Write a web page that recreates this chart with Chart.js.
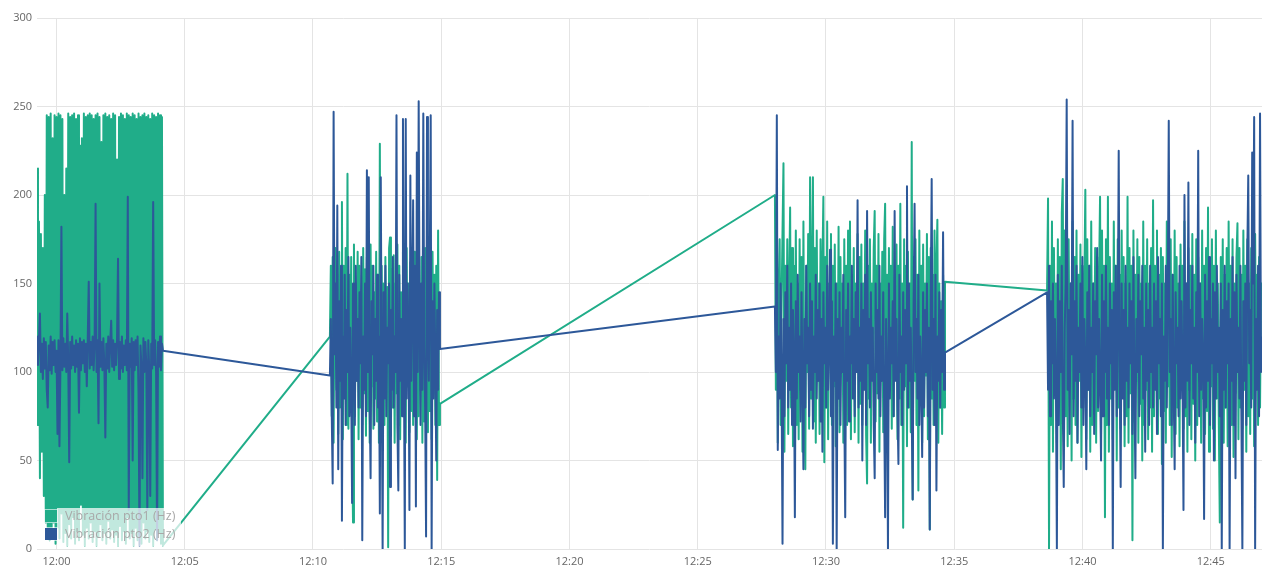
<!DOCTYPE html>
<html>
<head>
<meta charset="utf-8">
<title>Vibración</title>
<script src="https://cdn.jsdelivr.net/npm/chart.js@4/dist/chart.umd.min.js"></script>
<style>
  html, body { margin: 0; padding: 0; background: #fff; }
  #wrap { width: 1262px; height: 569px; position: relative; }
</style>
</head>
<body>
<div id="wrap"><canvas id="chart"></canvas></div>
<script>
// minutes after 12:00 where each recording burst starts / ends
const burstStart = [-0.76, 10.66, 28.01, 38.62];
const burstEnd = [4.15, 14.95, 34.64, 47.0];

// Vibración pto1 (Hz)
const pto1Burst1 = [215, 70, 185, 40, 178, 55, 170, 30, 200, 15, 245, 10, 244, 5, 246, 8, 232, 15, 245, 3,
  244, 12, 246, 6, 245, 20, 243, 4, 200, 9, 215, 2, 246, 14, 244, 6, 245, 18, 246, 3,
  243, 10, 245, 5, 228, 25, 232, 8, 246, 2, 244, 12, 245, 6, 246, 15, 245, 4, 243, 10,
  245, 2, 246, 7, 244, 14, 230, 5, 245, 9, 246, 3, 244, 16, 245, 6, 243, 11, 246, 4,
  245, 8, 220, 2, 244, 13, 246, 5, 245, 10, 243, 3, 246, 18, 245, 6, 244, 9, 246, 2,
  245, 12, 243, 5, 246, 8, 244, 3, 245, 15, 246, 6, 244, 10, 245, 4, 243, 8, 246, 2,
  245, 11, 244, 5, 246, 9, 245, 3, 244, 2];
const pto1Burst2 = [120, 160, 75, 165, 60, 150, 170, 90, 155, 65, 168, 80, 145, 196, 62, 160, 90, 170, 70, 212,
  68, 155, 85, 165, 58, 15, 172, 75, 150, 95, 168, 62, 160, 80, 145, 70, 170, 88, 158, 64,
  165, 78, 150, 60, 172, 92, 160, 68, 145, 85, 168, 72, 155, 60, 229, 66, 160, 82, 150, 70,
  165, 90, 148, 1, 170, 176, 64, 158, 80, 166, 60, 150, 88, 172, 70, 160, 62, 145, 85, 168,
  75, 155, 60, 170, 92, 150, 66, 162, 78, 148, 70, 168, 84, 158, 62, 170, 75, 150, 90, 165,
  60, 158, 72, 170, 82, 148, 66, 160, 78, 150, 62, 168, 88, 155, 70, 160, 39, 180, 70, 82];
const pto1Burst3 = [200, 90, 165, 60, 150, 175, 70, 140, 180, 218, 55, 160, 95, 175, 65, 150, 193, 80, 170, 58,
  160, 100, 180, 70, 150, 62, 175, 90, 165, 55, 185, 75, 45, 160, 100, 178, 68, 210, 85, 155,
  210, 72, 170, 60, 180, 95, 150, 65, 175, 88, 160, 199, 49, 165, 80, 185, 62, 150, 110, 178,
  70, 160, 92, 172, 58, 150, 85, 182, 66, 165, 100, 150, 60, 175, 80, 160, 70, 180, 95, 185,
  62, 155, 88, 170, 66, 150, 100, 178, 60, 165, 82, 172, 70, 150, 95, 180, 64, 37, 160, 85,
  175, 60, 150, 105, 170, 191, 72, 160, 88, 178, 55, 150, 95, 168, 66, 175, 195, 80, 155, 60,
  170, 90, 160, 68, 182, 75, 150, 100, 172, 62, 160, 85, 195, 70, 150, 12, 175, 92, 160, 58,
  168, 80, 150, 66, 230, 28, 165, 95, 175, 70, 155, 33, 180, 88, 160, 60, 172, 75, 150, 98,
  178, 62, 165, 11, 170, 85, 155, 70, 180, 92, 160, 186, 60, 150, 80, 140, 65, 155, 80, 151];
const pto1Burst4 = [146, 198, 0, 160, 70, 185, 55, 170, 90, 150, 60, 175, 80, 165, 45, 190, 209, 65, 180, 75,
  160, 58, 175, 95, 150, 50, 185, 85, 165, 70, 180, 60, 155, 95, 172, 52, 160, 80, 150, 203,
  62, 175, 90, 160, 55, 185, 70, 150, 88, 170, 60, 165, 78, 155, 199, 65, 180, 92, 160, 18,
  175, 70, 199, 55, 165, 85, 150, 62, 185, 95, 160, 50, 175, 80, 155, 68, 180, 90, 165, 58,
  150, 75, 199, 60, 170, 88, 160, 5, 180, 72, 155, 95, 175, 60, 165, 82, 150, 50, 185, 70,
  160, 90, 175, 62, 150, 80, 170, 55, 197, 75, 160, 95, 180, 65, 155, 85, 170, 48, 165, 78,
  150, 60, 185, 92, 160, 70, 175, 52, 155, 88, 180, 65, 165, 80, 150, 58, 172, 95, 160, 68,
  185, 75, 150, 55, 170, 90, 160, 62, 178, 82, 155, 50, 175, 70, 165, 95, 150, 60, 180, 85,
  160, 65, 170, 78, 193, 55, 155, 92, 175, 68, 160, 50, 180, 85, 150, 70, 15, 165, 88, 175,
  60, 155, 80, 170, 58, 185, 95, 160, 70, 175, 52, 150, 88, 165, 184, 62, 170, 80, 155, 68,
  180, 90, 160, 55, 175, 75, 150, 65, 170, 85, 160, 58, 178, 92, 155, 70, 165, 80, 150, 150];

// Vibración pto2 (Hz)
const pto2Burst1 = [120, 104, 118, 133, 100, 116, 96, 119, 102, 117, 90, 80, 115, 101, 120, 99, 117, 104, 118, 100,
  112, 65, 118, 58, 104, 182, 101, 119, 103, 116, 100, 133, 106, 49, 117, 102, 120, 104, 115, 100,
  118, 103, 116, 77, 119, 101, 117, 105, 118, 100, 116, 92, 119, 151, 102, 117, 104, 120, 101, 116,
  195, 100, 118, 71, 150, 103, 117, 101, 119, 104, 63, 116, 102, 120, 100, 117, 129, 103, 118, 101,
  116, 104, 119, 164, 96, 117, 102, 120, 100, 115, 104, 118, 101, 199, 22, 116, 103, 119, 50, 117,
  101, 118, 104, 120, 88, 2, 115, 103, 40, 119, 100, 117, 104, 22, 118, 101, 30, 116, 102, 196,
  104, 118, 100, 5, 117, 103, 120, 101, 116, 112];
const pto2Burst2 = [98, 130, 75, 37, 247, 110, 150, 80, 194, 45, 140, 95, 160, 16, 120, 85, 155, 70, 135, 100,
  165, 75, 125, 90, 26, 150, 110, 70, 160, 95, 130, 80, 145, 105, 165, 5, 120, 90, 150, 75,
  214, 100, 210, 85, 40, 140, 110, 160, 70, 130, 95, 155, 80, 120, 20, 210, 100, 0, 145, 85,
  160, 75, 125, 105, 150, 35, 135, 90, 165, 80, 120, 100, 245, 70, 33, 155, 95, 130, 75, 243,
  110, 0, 243, 85, 150, 120, 22, 211, 95, 140, 197, 75, 160, 24, 224, 100, 253, 130, 70, 150,
  90, 246, 115, 80, 7, 244, 125, 95, 160, 245, 0, 140, 85, 150, 105, 50, 135, 90, 145, 113];
const pto2Burst3 = [137, 100, 245, 56, 120, 85, 150, 95, 3, 130, 75, 145, 105, 160, 80, 125, 90, 150, 70, 135,
  110, 18, 140, 85, 155, 100, 120, 72, 145, 95, 45, 130, 80, 160, 105, 125, 75, 150, 90, 140,
  68, 120, 100, 155, 85, 135, 95, 150, 72, 130, 55, 145, 105, 125, 80, 160, 90, 115, 169, 75,
  140, 3, 120, 95, 150, 0, 130, 85, 145, 70, 125, 100, 155, 80, 18, 135, 95, 150, 72, 120,
  105, 160, 85, 130, 75, 145, 100, 197, 80, 125, 95, 150, 50, 135, 90, 155, 70, 191, 105, 130,
  80, 145, 95, 125, 70, 40, 150, 100, 135, 85, 160, 75, 120, 95, 145, 80, 18, 130, 100, 0,
  150, 85, 125, 105, 140, 75, 191, 95, 130, 80, 48, 155, 100, 120, 70, 145, 90, 135, 105, 205,
  80, 150, 95, 125, 75, 28, 140, 195, 100, 130, 85, 155, 70, 120, 95, 52, 145, 80, 135, 100,
  150, 75, 125, 11, 140, 209, 90, 130, 70, 155, 33, 120, 95, 145, 80, 135, 100, 179, 90, 111];
const pto2Burst4 = [145, 90, 160, 75, 140, 105, 150, 85, 130, 95, 0, 155, 70, 140, 100, 160, 80, 35, 125, 150,
  254, 90, 135, 65, 150, 110, 242, 75, 140, 95, 160, 60, 125, 100, 150, 80, 165, 70, 130, 105,
  45, 145, 90, 160, 75, 125, 100, 150, 65, 140, 110, 170, 80, 130, 95, 50, 155, 75, 140, 100,
  160, 85, 125, 70, 150, 105, 135, 0, 145, 90, 160, 75, 120, 225, 100, 35, 150, 85, 135, 70,
  160, 95, 125, 80, 150, 105, 140, 65, 165, 90, 40, 130, 100, 155, 75, 140, 110, 160, 85, 125,
  55, 150, 95, 135, 70, 160, 100, 125, 80, 150, 90, 140, 65, 165, 105, 130, 75, 150, 0, 120,
  95, 160, 80, 140, 242, 100, 130, 70, 155, 90, 45, 145, 105, 125, 75, 160, 85, 140, 100, 22,
  200, 80, 150, 95, 207, 70, 135, 105, 160, 85, 125, 60, 145, 100, 225, 75, 150, 90, 130, 110,
  17, 155, 80, 140, 95, 165, 70, 130, 105, 150, 50, 145, 85, 160, 100, 125, 75, 150, 0, 135,
  90, 160, 80, 140, 105, 150, 0, 130, 95, 165, 70, 145, 40, 155, 100, 125, 85, 160, 75, 0,
  140, 95, 150, 70, 165, 211, 105, 135, 80, 224, 150, 244, 0, 130, 90, 160, 75, 246, 100, 120];

const pto1Bursts = [pto1Burst1, pto1Burst2, pto1Burst3, pto1Burst4];
const pto2Bursts = [pto2Burst1, pto2Burst2, pto2Burst3, pto2Burst4];

const green = '#20ad89';
const blue = '#2d5899';

// samples inside a burst are evenly spaced in time
function toPoints(bursts) {
  let pts = [];
  bursts.forEach((vals, b) => {
    let step = (burstEnd[b] - burstStart[b]) / (vals.length - 1);
    vals.forEach((v, i) => pts.push({ x: burstStart[b] + i * step, y: v }));
  });
  return pts;
}

const legendInside = {
  id: 'legendInside',
  afterDraw(chart) {
    let ctx = chart.ctx,
        area = chart.chartArea,
        x = area.left + 8,
        y = area.bottom - 39;
    ctx.save();
    ctx.fillStyle = 'rgba(255,255,255,0.72)';
    ctx.fillRect(x + 12, y - 2, 124, 38);
    ctx.font = '12.5px "Open Sans"';
    ctx.textBaseline = 'middle';
    chart.data.datasets.forEach((ds, i) => {
      let by = y + i * 18;
      ctx.fillStyle = 'rgba(255,255,255,0.6)';
      ctx.fillRect(x - 1, by - 1, 14, 14);
      ctx.fillStyle = ds.borderColor;
      ctx.fillRect(x, by, 12, 12);
      ctx.fillStyle = '#a8a8a8';
      ctx.fillText(ds.label, x + 20, by + 6);
    });
    ctx.restore();
  }
};

new Chart(document.getElementById('chart'), {
  type: 'line',
  data: {
    datasets: [
      {
        label: 'Vibración pto1 (Hz)',
        data: toPoints(pto1Bursts),
        borderColor: green,
        backgroundColor: green,
        borderWidth: 2,
        order: 1
      },
      {
        label: 'Vibración pto2 (Hz)',
        data: toPoints(pto2Bursts),
        borderColor: blue,
        backgroundColor: blue,
        borderWidth: 2,
        order: 0
      }
    ]
  },
  options: {
    responsive: true,
    maintainAspectRatio: false,
    animation: false,
    parsing: false,
    normalized: true,
    elements: {
      point: { radius: 0, hoverRadius: 0 },
      line: { tension: 0, borderJoinStyle: 'round' }
    },
    layout: { padding: { top: 18, left: 0, right: 0, bottom: 0 } },
    plugins: {
      legend: { display: false },
      tooltip: { enabled: false }
    },
    scales: {
      x: {
        type: 'linear',
        min: burstStart[0],
        max: burstEnd[burstEnd.length - 1],
        border: { display: false },
        grid: { color: '#e4e4e4', drawTicks: false },
        ticks: {
          stepSize: 5,
          includeBounds: false,
          padding: 6,
          color: '#666',
          font: { family: 'Open Sans', size: 11 },
          maxRotation: 0,
          callback: v => '12:' + String(v).padStart(2, '0')
        },
        afterFit: s => { s.height = 20; }
      },
      y: {
        min: 0,
        max: 300,
        border: { display: false },
        grid: { color: '#e4e4e4', drawTicks: false },
        ticks: {
          stepSize: 50,
          padding: 5,
          color: '#666',
          font: { family: 'Open Sans', size: 11 }
        },
        afterFit: s => { s.width = 37; }
      }
    }
  },
  plugins: [legendInside]
});
</script>
</body>
</html>
